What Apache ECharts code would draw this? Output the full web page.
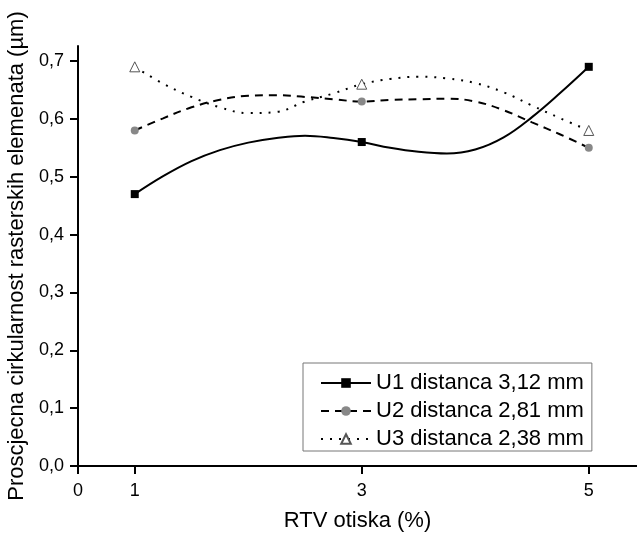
<!DOCTYPE html>
<html>
<head>
<meta charset="utf-8">
<script src="https://cdn.jsdelivr.net/npm/echarts@6/dist/echarts.min.js"></script>
<style>
html,body{margin:0;padding:0;background:#fff;}
#chart{width:637px;height:533px;}
</style>
</head>
<body>
<div id="chart"></div>
<script>
// Measured points
const rtv = [1, 3, 5];
const u1 = [0.47, 0.56, 0.69];
const u2 = [0.58, 0.63, 0.55];
const u3 = [0.69, 0.66, 0.58];

const curveX = [1.25, 1.5, 1.75, 2.0, 2.25, 2.5, 2.75, 3.25, 3.5, 3.75, 4.0, 4.25, 4.5, 4.75];
const u1CurveY = [0.501, 0.527, 0.546, 0.559, 0.567, 0.571, 0.567, 0.550, 0.543, 0.540, 0.547, 0.568, 0.603, 0.645];
const u2CurveY = [0.601, 0.620, 0.633, 0.640, 0.641, 0.638, 0.634, 0.633, 0.634, 0.635, 0.630, 0.615, 0.594, 0.573];
const u3CurveY = [0.661, 0.638, 0.620, 0.610, 0.612, 0.630, 0.644, 0.669, 0.673, 0.670, 0.662, 0.646, 0.623, 0.601];

const seriesNames = ['U1 distanca 3,12 mm', 'U2 distanca 2,81 mm', 'U3 distanca 2,38 mm'];
const xTicks = [0.5, 1, 3, 5];
const xTickLabels = ['0', '1', '3', '5'];
const yTicks = [0, 0.1, 0.2, 0.3, 0.4, 0.5, 0.6, 0.7];

function buildData(xs, ys, cx, cy) {
  const pts = [];
  xs.forEach((x, i) => pts.push({ value: [x, ys[i]] }));
  cx.forEach((x, i) => pts.push({ value: [x, cy[i]], symbol: 'none' }));
  pts.sort((a, b) => a.value[0] - b.value[0]);
  return pts;
}

const FONT = 'Liberation Sans, Arial, sans-serif';
const chart = echarts.init(document.getElementById('chart'), null, { renderer: 'canvas' });

chart.setOption({
  animation: false,
  backgroundColor: '#fff',
  textStyle: { fontFamily: FONT, color: '#000' },
  grid: { left: 78, top: 46, right: 0, bottom: 67, containLabel: false, outerBoundsMode: 'none' },
  xAxis: {
    type: 'value',
    min: 0.5,
    max: 5.425,
    name: 'RTV otiska (%)',
    nameLocation: 'middle',
    nameGap: 44,
    nameTextStyle: { fontSize: 22, color: '#000', fontFamily: FONT },
    axisLine: { onZero: false, lineStyle: { color: '#000', width: 2 } },
    axisTick: { show: true, length: 8, inside: false, customValues: xTicks, lineStyle: { color: '#000', width: 2 } },
    axisLabel: {
      customValues: xTicks,
      fontSize: 18, color: '#000', fontFamily: FONT, margin: 16,
      formatter: v => { const i = xTicks.indexOf(v); return i >= 0 ? xTickLabels[i] : ''; }
    },
    splitLine: { show: false }
  },
  yAxis: {
    type: 'value',
    min: 0,
    max: 0.726,
    name: 'Proscjecna cirkularnost rasterskih elemenata (µm)',
    nameLocation: 'middle',
    nameGap: 40,
    nameRotate: 90,
    nameTextStyle: { fontSize: 22, color: '#000', fontFamily: FONT },
    axisLine: { show: true, lineStyle: { color: '#000', width: 2 } },
    axisTick: { show: true, length: 8, inside: false, customValues: yTicks, lineStyle: { color: '#000', width: 2 } },
    axisLabel: {
      customValues: yTicks,
      fontSize: 18, color: '#000', fontFamily: FONT, margin: 14,
      formatter: v => v.toFixed(1).replace('.', ',')
    },
    splitLine: { show: false }
  },
  legend: {
    left: 303,
    top: 363,
    orient: 'vertical',
    padding: [9, 8, 1, 17],
    itemWidth: 50,
    itemHeight: 12,
    itemGap: 6,
    borderColor: '#777',
    borderWidth: 1,
    backgroundColor: '#fff',
    z: 10,
    textStyle: { fontSize: 22, lineHeight: 22, color: '#000', fontFamily: FONT },
    data: seriesNames
  },
  series: [
    {
      name: seriesNames[0], type: 'line', smooth: 0.4,
      data: buildData(rtv, u1, curveX, u1CurveY),
      symbol: 'rect', symbolSize: 8,
      itemStyle: { color: '#000' },
      lineStyle: { color: '#000', width: 2, type: 'solid' },
      z: 3
    },
    {
      name: seriesNames[1], type: 'line', smooth: 0.4,
      data: buildData(rtv, u2, curveX, u2CurveY),
      symbol: 'circle', symbolSize: 8,
      itemStyle: { color: '#888' },
      lineStyle: { color: '#000', width: 2, type: [8, 6] },
      z: 2
    },
    {
      name: seriesNames[2], type: 'line', smooth: 0.4,
      data: buildData(rtv, u3, curveX, u3CurveY),
      symbol: 'triangle', symbolSize: 10,
      itemStyle: { color: '#fff', borderColor: '#555', borderWidth: 1 },
      lineStyle: { color: '#000', width: 2, type: [2, 7] },
      z: 1
    }
  ]
});
</script>
</body>
</html>
